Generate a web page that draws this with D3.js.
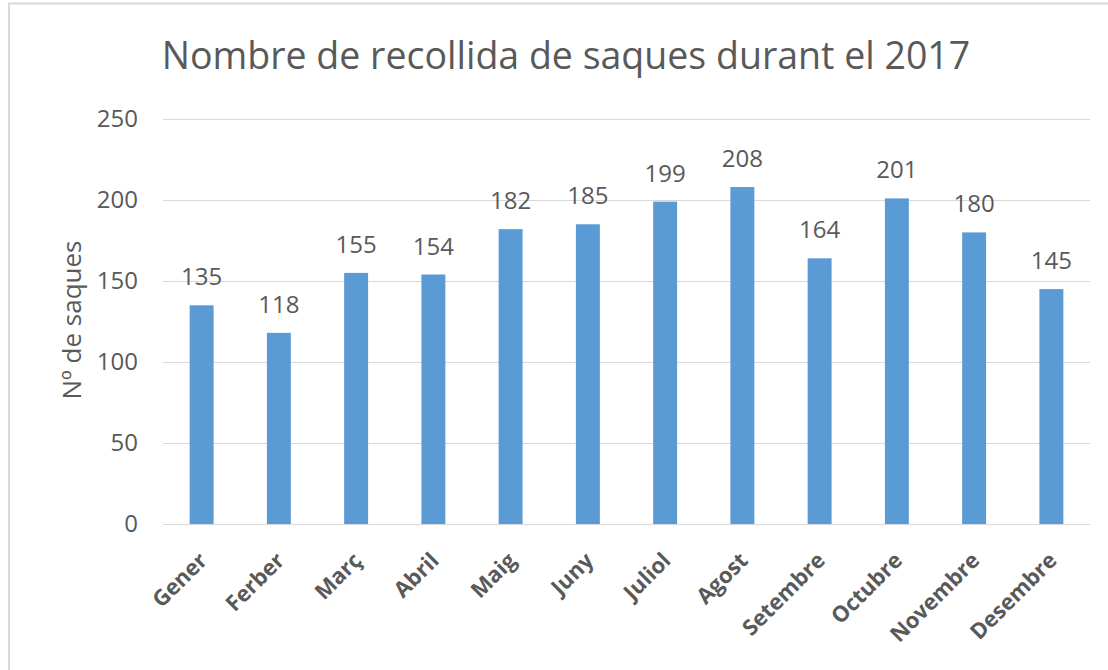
<!DOCTYPE html>
<html>
<head>
<meta charset="utf-8">
<script src="https://cdn.jsdelivr.net/npm/d3@7"></script>
<style>
  body { margin: 0; background: #fff; }
  svg { display: block; font-family: "Open Sans", sans-serif; }
</style>
</head>
<body>
<svg id="chart" width="1108" height="670"></svg>
<script>
// data
const months = ["Gener", "Ferber", "Març", "Abril", "Maig", "Juny", "Juliol",
                "Agost", "Setembre", "Octubre", "Novembre", "Desembre"];
const bags = [135, 118, 155, 154, 182, 185, 199, 208, 164, 201, 180, 145];
const yTicks = [0, 50, 100, 150, 200, 250];

const svg = d3.select("#chart");
const textColor = "#595959";

// outer chart border (left and top are visible)
svg.append("path")
    .attr("d", "M9,670 V3.5 H1108")
    .attr("fill", "none")
    .attr("stroke", "#d9d9d9")
    .attr("stroke-width", 2);

const plot = { left: 163, right: 1090, top: 119, bottom: 524 };

const x = d3.scaleBand()
    .domain(months)
    .range([plot.left, plot.right])
    .paddingInner(0.69)
    .paddingOuter(0.345);

const y = d3.scaleLinear()
    .domain([0, 250])
    .range([plot.bottom, plot.top]);

// gridlines + y labels
const yAxis = svg.append("g")
    .attr("transform", `translate(${plot.left},0)`)
    .call(d3.axisLeft(y).tickValues(yTicks).tickSize(-(plot.right - plot.left)).tickPadding(25));
yAxis.select(".domain").remove();
yAxis.selectAll(".tick line").attr("stroke", "#d9d9d9").attr("stroke-width", 1);
yAxis.selectAll(".tick text")
    .attr("fill", textColor)
    .attr("font-size", 24)
    .attr("font-family", "Open Sans");

// bars
svg.append("g").selectAll("rect")
    .data(bags)
    .join("rect")
    .attr("x", (d, i) => x(months[i]))
    .attr("y", d => y(d))
    .attr("width", x.bandwidth())
    .attr("height", d => y(0) - y(d))
    .attr("fill", "#5b9bd5");

// value labels
svg.append("g").selectAll("text")
    .data(bags)
    .join("text")
    .attr("x", (d, i) => x(months[i]) + x.bandwidth() / 2)
    .attr("y", d => y(d) - 20)
    .attr("text-anchor", "middle")
    .attr("fill", textColor)
    .attr("font-size", 24)
    .text(d => d);

// x labels, rotated
svg.append("g").selectAll("text")
    .data(months)
    .join("text")
    .attr("transform", d => `translate(${x(d) + x.bandwidth() / 2 - 4},${plot.bottom + 27}) rotate(-45)`)
    .attr("text-anchor", "end")
    .attr("dy", "0.7em")
    .attr("fill", textColor)
    .attr("font-size", 22)
    .attr("font-weight", "bold")
    .text(d => d);

// axis title
svg.append("text")
    .attr("transform", "translate(81,320) rotate(-90)")
    .attr("text-anchor", "middle")
    .attr("fill", textColor)
    .attr("font-size", 26)
    .text("Nº de saques");

// chart title
svg.append("text")
    .attr("x", 566)
    .attr("y", 69)
    .attr("text-anchor", "middle")
    .attr("fill", textColor)
    .attr("font-size", 37.5)
    .text("Nombre de recollida de saques durant el 2017");
</script>
</body>
</html>
